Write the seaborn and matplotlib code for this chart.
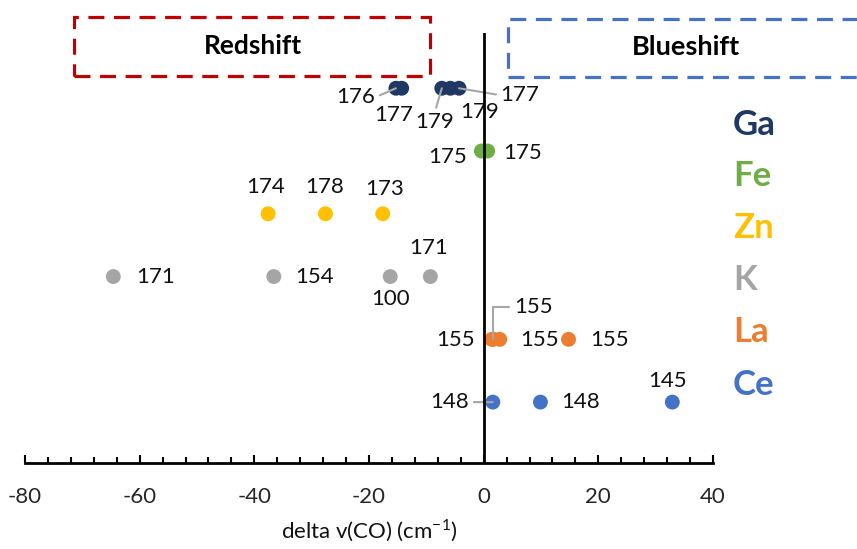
# scatter of delta v(CO) shifts per metal, labelled points

import matplotlib.pyplot as plt
import seaborn as sns
import pandas as pd
from matplotlib.patches import Rectangle
from matplotlib.ticker import MultipleLocator

# data
metals = ['Ga', 'Fe', 'Zn', 'K', 'La', 'Ce']
metal_row = {'Ga': 6, 'Fe': 5, 'Zn': 4, 'K': 3, 'La': 2, 'Ce': 1}
ga_shift = [-15.3, -14.3, -7.3, -5.8, -4.3]
ga_label = [176, 177, 179, 179, 177]
fe_shift = [-0.4, 0.7]
fe_label = [175, 175]
zn_shift = [-37.6, -27.6, -17.6]
zn_label = [174, 178, 173]
k_shift = [-64.6, -36.6, -16.3, -9.3]
k_label = [171, 154, 100, 171]
la_shift = [1.4, 1.7, 2.8, 14.8]
la_label = [155, 155, 155, 155]
ce_shift = [1.6, 9.9, 32.9]
ce_label = [148, 148, 145]
x_ticks = [-80, -60, -40, -20, 0, 20, 40]

colors = {'Ga': '#203864', 'Fe': '#70AD47', 'Zn': '#FFC000',
          'K': '#A5A5A5', 'La': '#ED7D31', 'Ce': '#4472C4'}

shifts = {'Ga': ga_shift, 'Fe': fe_shift, 'Zn': zn_shift,
          'K': k_shift, 'La': la_shift, 'Ce': ce_shift}
labels = {'Ga': ga_label, 'Fe': fe_label, 'Zn': zn_label,
          'K': k_label, 'La': la_label, 'Ce': ce_label}

rows = []
for m in metals:
    for x, lab in zip(shifts[m], labels[m]):
        rows.append({'metal': m, 'shift': x, 'row': metal_row[m], 'label': lab})
df = pd.DataFrame(rows)

# label placement (pixel offsets from the point) and leader style
# (dx, dy, leader, relpos)
offsets = {
    'Ga': [(-40, -9, True, (1, 0.5)), (-8, -27, False, None),
           (-7, -34, True, (0.5, 1)), (29, -24, False, None),
           (61, -7, True, (0, 0.5))],
    'Fe': [(-34, -6, False, None), (35, -2, False, None)],
    'Zn': [(-3, 27, False, None), (-1, 27, False, None), (2, 25, False, None)],
    'K': [(42, 0, False, None), (41, 0, False, None),
          (0, -22, False, None), (-2, 29, False, None)],
    'La': [(-36, -1, False, None), (40, 32, 'angle', (0, 0.5)),
           (40, -1, False, None), (41, -1, False, None)],
    'Ce': [(-43, 0, True, (1, 0.5)), (40, 0, False, None), (-5, 21, False, None)],
}

sns.set_style('white')
plt.rcParams['font.family'] = ['Lato', 'DejaVu Sans']
plt.rcParams['axes.unicode_minus'] = False
plt.rcParams['mathtext.fontset'] = 'custom'
plt.rcParams['mathtext.rm'] = 'Lato'

fig = plt.figure(figsize=(8.57, 5.49), dpi=100)
ax = fig.add_axes([25 / 857, (549 - 463) / 549, 688 / 857, (463 - 33) / 549])

sns.scatterplot(data=df, x='shift', y='row', hue='metal', palette=colors,
                s=115, linewidth=0, legend=False, ax=ax, zorder=2)

text_color = '#111111'
for m in metals:
    for (x, lab), (dx, dy, leader, rel) in zip(zip(shifts[m], labels[m]), offsets[m]):
        props = None
        if leader == 'angle':
            props = dict(arrowstyle='-', color='#A6A6A6', lw=1.5, relpos=rel,
                         shrinkA=1, shrinkB=0,
                         connectionstyle='angle,angleA=0,angleB=90,rad=0')
        elif leader:
            props = dict(arrowstyle='-', color='#A6A6A6', lw=1.5, relpos=rel,
                         shrinkA=1, shrinkB=0)
        ax.annotate(str(lab), xy=(x, metal_row[m]), xytext=(dx, dy),
                    textcoords='offset pixels', ha='center', va='center',
                    fontsize=16, color=text_color, arrowprops=props, zorder=3)

ax.axvline(0, color='black', lw=2, zorder=4)
ax.set_xlim(-80, 40)
ax.set_ylim(0.03, 6.88)
ax.set_xticks(x_ticks)
ax.xaxis.set_minor_locator(MultipleLocator(4))
ax.set_yticks([])
for side in ['left', 'top', 'right']:
    ax.spines[side].set_visible(False)
ax.spines['bottom'].set_color('black')
ax.spines['bottom'].set_linewidth(2)
ax.tick_params(axis='x', which='major', direction='in', length=6, width=1.5,
               color='black', labelsize=16, pad=17, bottom=True)
ax.tick_params(axis='x', which='minor', direction='in', length=4, width=1.5,
               color='black', bottom=True)
ax.set_xlabel('delta v(CO) (cm$^{-1}$)', fontsize=16, labelpad=8, color=text_color)
ax.set_ylabel('')

# redshift / blueshift boxes
W, H = 857, 549
def fig_rect(x0, y0, x1, y1, color):
    r = Rectangle((x0 / W, 1 - y1 / H), (x1 - x0) / W, (y1 - y0) / H,
                  transform=fig.transFigure, fill=False, edgecolor=color,
                  lw=2.3, linestyle=(0, (5, 3)), clip_on=False)
    fig.patches.append(r)

fig_rect(74, 17, 430, 76, '#C00000')
fig_rect(508, 19, 880, 77, '#4472C4')
fig.text(253 / W, 1 - 46 / H, 'Redshift', ha='center', va='center',
         fontsize=19, fontweight='bold', color='black')
fig.text(686 / W, 1 - 47 / H, 'Blueshift', ha='center', va='center',
         fontsize=19.5, fontweight='bold', color='black')

# coloured metal names on the right
name_y = [125, 176, 228, 280, 332, 385]
for m, yy in zip(metals, name_y):
    fig.text(733 / W, 1 - yy / H, m, ha='left', va='center', fontsize=25,
             fontweight='bold', color=colors[m])

fig.savefig('out.png', dpi=100)
